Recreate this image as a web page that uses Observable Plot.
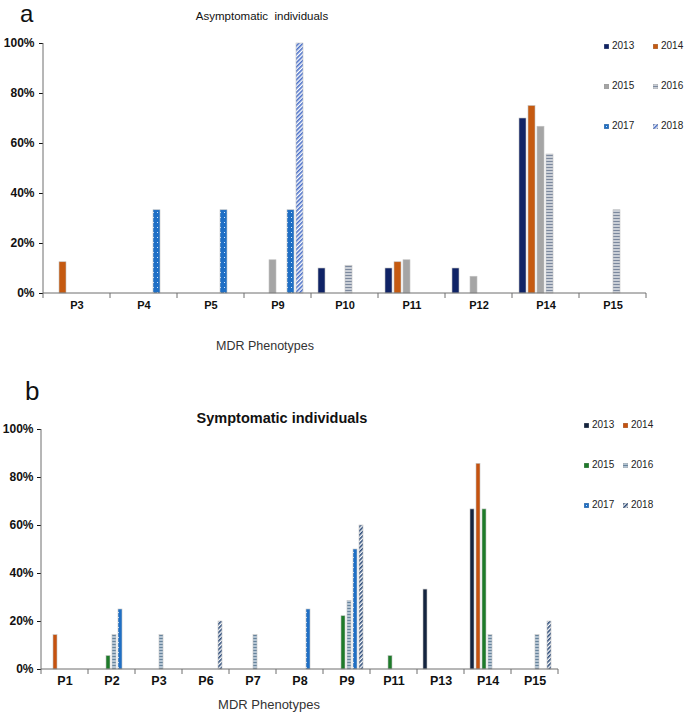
<!DOCTYPE html>
<html>
<head>
<meta charset="utf-8">
<script src="https://cdn.jsdelivr.net/npm/d3@7"></script>
<script src="https://cdn.jsdelivr.net/npm/@observablehq/plot@0.6"></script>
<style>
  body { margin: 0; background: #fff; font-family: "Liberation Sans", Arial, sans-serif; }
  #page { position: relative; width: 685px; height: 714px; overflow: hidden; }
  .panel { position: absolute; left: 0; }
  .txt { position: absolute; white-space: pre; color: #111; }
  .leg { position: absolute; display: flex; align-items: center; font-size: 10px; line-height: 1; color: #222; }
  .leg svg { margin-right: 3px; }
</style>
</head>
<body>
<svg width="0" height="0" style="position:absolute">
  <defs>
    <pattern id="stripeA" width="4" height="3" patternUnits="userSpaceOnUse">
      <rect width="4" height="3" fill="#c9ced6"/><rect y="2" width="4" height="1" fill="#7b889d"/>
    </pattern>
    <pattern id="stripeB" width="4" height="3" patternUnits="userSpaceOnUse">
      <rect width="4" height="3" fill="#b3c4d3"/><rect y="2" width="4" height="1" fill="#66839c"/>
    </pattern>
    <pattern id="dots" width="4" height="5" patternUnits="userSpaceOnUse">
      <rect width="4" height="5" fill="#1f6fc5"/><rect x="2" y="2" width="1" height="1" fill="#d6e8fb"/>
    </pattern>
    <pattern id="hatchA" width="3" height="3" patternUnits="userSpaceOnUse" patternTransform="rotate(45)">
      <rect width="3" height="3" fill="#ffffff"/><rect width="1.6" height="3" fill="#4a70c8"/>
    </pattern>
    <pattern id="hatchB" width="3" height="3" patternUnits="userSpaceOnUse" patternTransform="rotate(45)">
      <rect width="3" height="3" fill="#ffffff"/><rect width="1.6" height="3" fill="#2b4a78"/>
    </pattern>
  </defs>
</svg>
<div id="page">
  <div id="chartA" class="panel" style="top:0"></div>
  <div id="chartB" class="panel" style="top:360px"></div>
</div>
<script>
const years = ["2013", "2014", "2015", "2016", "2017", "2018"];
const yTicks = [0, 20, 40, 60, 80, 100];

// a: asymptomatic individuals (% per phenotype, one array per year)
const catsA = ["P3", "P4", "P5", "P9", "P10", "P11", "P12", "P14", "P15"];
const a2013 = [0, 0, 0, 0, 10, 10, 10, 70, 0];
const a2014 = [12.5, 0, 0, 0, 0, 12.5, 0, 75, 0];
const a2015 = [0, 0, 0, 13.3, 0, 13.3, 6.7, 66.7, 0];
const a2016 = [0, 0, 0, 0, 11.1, 0, 0, 55.6, 33.3];
const a2017 = [0, 33.3, 33.3, 33.3, 0, 0, 0, 0, 0];
const a2018 = [0, 0, 0, 100, 0, 0, 0, 0, 0];

// b: symptomatic individuals
const catsB = ["P1", "P2", "P3", "P6", "P7", "P8", "P9", "P11", "P13", "P14", "P15"];
const b2013 = [0, 0, 0, 0, 0, 0, 0, 0, 33.3, 66.7, 0];
const b2014 = [14.3, 0, 0, 0, 0, 0, 0, 0, 0, 85.7, 0];
const b2015 = [0, 5.6, 0, 0, 0, 0, 22.2, 5.6, 0, 66.7, 0];
const b2016 = [0, 14.3, 14.3, 0, 14.3, 0, 28.6, 0, 0, 14.3, 14.3];
const b2017 = [0, 25, 0, 0, 0, 25, 50, 0, 0, 0, 0];
const b2018 = [0, 0, 0, 20, 0, 0, 60, 0, 0, 0, 20];

const fillsA = ["#0f2366", "#c55a11", "#a5a5a5", "url(#stripeA)", "url(#dots)", "url(#hatchA)"];
const fillsB = ["#14243f", "#c5520f", "#1e7b2a", "url(#stripeB)", "url(#dots)", "url(#hatchB)"];

const page = document.querySelector("#page");

function toRows(cats, series) {
  const rows = [];
  series.forEach((vals, i) => {
    vals.forEach((v, j) => {
      if (v > 0) rows.push({ cat: cats[j], year: years[i], value: v });
    });
  });
  return rows;
}

function drawChart(div, cats, series, fills, opts) {
  const chart = Plot.plot({
    width: 685,
    height: opts.height,
    marginTop: opts.marginTop,
    marginBottom: opts.marginBottom,
    marginLeft: opts.marginLeft,
    marginRight: opts.marginRight,
    style: { fontFamily: "Liberation Sans, Arial, sans-serif", fontSize: "12px", fontWeight: "bold", color: "#111" },
    fx: { domain: cats, padding: 0, axis: "bottom", label: null, tickSize: 0, tickPadding: opts.fxPad },
    x: { domain: years, paddingInner: opts.xInner, paddingOuter: opts.xOuter, axis: null },
    y: { domain: [0, 100], ticks: yTicks, tickFormat: (d) => d + "%", tickSize: 4, tickPadding: opts.yPad, label: null },
    color: { domain: years, range: fills },
    marks: [
      Plot.barY(toRows(cats, series), {
        fx: "cat",
        x: "year",
        y: "value",
        fill: "year",
        stroke: "#c4c4c4",
        strokeWidth: 0.6,
      }),
    ],
  });
  div.append(chart);

  // axis line, baseline and tick marks between the categories
  const fx = chart.scale("fx");
  const y = chart.scale("y");
  const y0 = y.apply(0);
  const y1 = y.apply(100);
  const edges = cats.map((c) => fx.apply(c));
  edges.push(fx.apply(cats[cats.length - 1]) + fx.bandwidth);
  const g = d3.select(chart).append("g").attr("stroke", "#6f6f6f").attr("stroke-width", 1);
  g.append("line").attr("x1", edges[0]).attr("x2", edges[0]).attr("y1", y1).attr("y2", y0);
  g.append("line").attr("x1", edges[0]).attr("x2", edges[edges.length - 1]).attr("y1", y0).attr("y2", y0);
  g.selectAll(".tk").data(edges).join("line")
    .attr("x1", (d) => d).attr("x2", (d) => d)
    .attr("y1", y0).attr("y2", y0 + 5);

  d3.select(chart).selectAll('[aria-label="fx-axis tick label"]').attr("font-size", opts.fxSize);
  return chart;
}

// place a text so that its baseline sits at the given y
function addText(str, x, baseline, size, weight, anchor, color) {
  const el = document.createElement("div");
  el.className = "txt";
  el.textContent = str;
  el.style.fontSize = size + "px";
  el.style.lineHeight = size + "px";
  el.style.fontWeight = weight;
  if (color) el.style.color = color;
  el.style.top = baseline - 0.8465 * size + "px";
  if (anchor === "middle") {
    el.style.left = x - 200 + "px";
    el.style.width = "400px";
    el.style.textAlign = "center";
  } else {
    el.style.left = x + "px";
  }
  page.append(el);
}

function addLegend(fills, x0, colW, y0, rowH) {
  years.forEach((yr, i) => {
    const el = document.createElement("div");
    el.className = "leg";
    el.style.left = x0 + (i % 2) * colW + "px";
    el.style.top = y0 + Math.floor(i / 2) * rowH - 5 + "px";
    el.innerHTML = `<svg width="5" height="5"><rect width="5" height="5" fill="${fills[i]}" stroke="#999" stroke-width="0.5"></rect></svg>${yr}`;
    page.append(el);
  });
}

drawChart(document.querySelector("#chartA"), catsA, [a2013, a2014, a2015, a2016, a2017, a2018], fillsA, {
  height: 360, marginTop: 43, marginBottom: 67, marginLeft: 43, marginRight: 39,
  xInner: 0.22, xOuter: 0.72, fxPad: 8, yPad: 5, fxSize: 11,
});
drawChart(document.querySelector("#chartB"), catsB, [b2013, b2014, b2015, b2016, b2017, b2018], fillsB, {
  height: 354, marginTop: 69, marginBottom: 45, marginLeft: 40, marginRight: 126,
  xInner: 0.28, xOuter: 0.9, fxPad: 7, yPad: 4, fxSize: 12.5,
});

addText("a", 20, 22, 24, "normal", "start");
addText("Asymptomatic  individuals", 262, 21, 11.5, "normal", "middle");
addText("MDR Phenotypes", 265, 351, 12.5, "normal", "middle", "#333");
addLegend(fillsA, 604, 49, 46, 40);

addText("b", 25, 400, 26, "normal", "start");
addText("Symptomatic individuals", 282, 423, 14.5, "bold", "middle");
addText("MDR Phenotypes", 269, 709, 13, "normal", "middle", "#333");
addLegend(fillsB, 584, 39, 425, 40);
</script>
</body>
</html>
